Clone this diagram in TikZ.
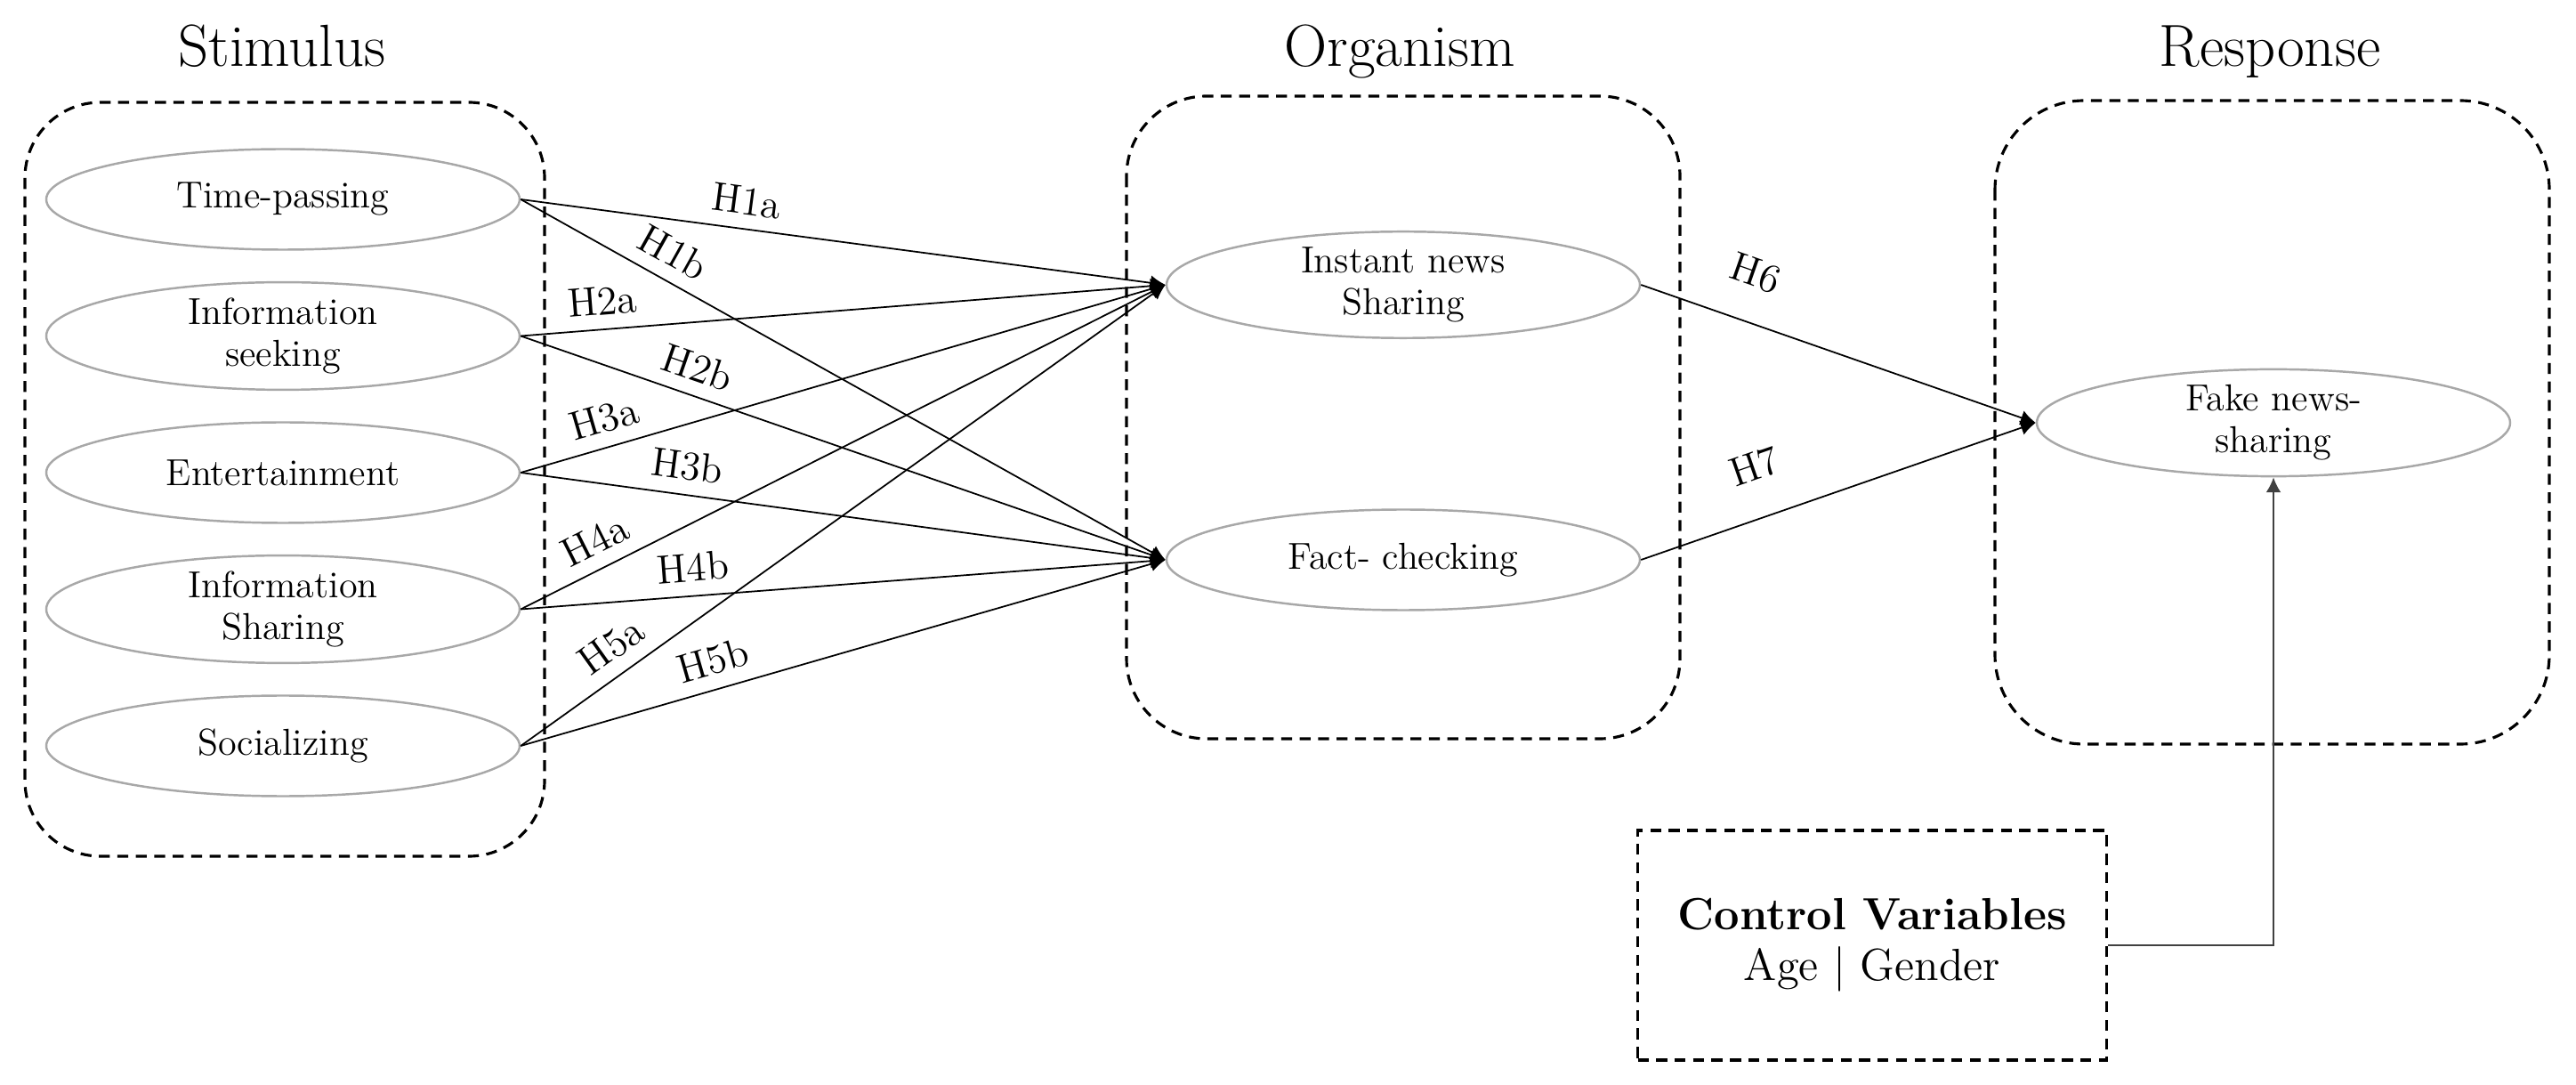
\documentclass[tikz,border=0pt]{standalone}
\usepackage{tikz}
\usetikzlibrary{arrows.meta,shapes.geometric}

\definecolor{ovalgray}{RGB}{168,168,168}

\begin{document}
\begin{tikzpicture}[>={Latex[length=4.8pt,width=4.8pt]},
    oval/.style={ellipse, draw=ovalgray, line width=0.7pt, minimum width=5.32cm,
        minimum height=1.13cm, inner sep=0pt, align=center,
        font=\fontsize{12}{13.4}\selectfont},
    grpbox/.style={draw, line width=0.9pt, dash pattern=on 3.5pt off 2.4pt},
    grptitle/.style={anchor=base, font=\fontsize{19}{22}\selectfont},
    hyp/.style={sloped, above=3.8pt, inner sep=0.5pt, font=\fontsize{13}{15}\selectfont},
    link/.style={->, line width=0.5pt}]
    \useasboundingbox (0,0) rectangle (28.95,-12.19);

    % 三个分组框
    \draw[grpbox, rounded corners=0.85cm] (0.28,-1.15) rectangle (6.12,-9.62);
    \draw[grpbox, rounded corners=0.9cm] (12.66,-1.08) rectangle (18.88,-8.30);
    \draw[grpbox, rounded corners=1cm] (22.42,-1.13) rectangle (28.65,-8.36);
    \node[grptitle] (stimtitle) at (3.17,-0.75) {Stimulus};
    \node[grptitle] (orgtitle) at (15.73,-0.75) {Organism};
    \node[grptitle] (resptitle) at (25.51,-0.75) {Response};

    % Stimulus: 左侧五个椭圆
    \node[oval] (timepass) at (3.18,-2.24) {Time-passing};
    \node[oval] (infoseek) at (3.18,-3.775) {Information\\seeking};
    \node[oval] (entertain) at (3.18,-5.31) {Entertainment};
    \node[oval] (infoshare) at (3.18,-6.845) {Information\\Sharing};
    \node[oval] (social) at (3.18,-8.38) {Socializing};

    % Organism 与 Response
    \node[oval] (instant) at (15.77,-3.20) {Instant news\\Sharing};
    \node[oval] (factcheck) at (15.77,-6.29) {Fact- checking};
    \node[oval] (fakenews) at (25.55,-4.75) {Fake news-\\sharing};

    % 控制变量
    \node[grpbox, minimum width=5.27cm, minimum height=2.58cm, align=center,
        font=\fontsize{14.4}{16.2}\selectfont] (control) at (21.04,-10.62)
        {\textbf{Control Variables}\\Age \textbar{} Gender};

    % 假设路径 H1--H5
    \draw[link] (timepass.east) -- node[hyp, pos=0.345] {H1a} (instant.west);
    \draw[link] (timepass.east) -- node[hyp, pos=0.215] {H1b} (factcheck.west);
    \draw[link] (infoseek.east) -- node[hyp, pos=0.13] {H2a} (instant.west);
    \draw[link] (infoseek.east) -- node[hyp, pos=0.26] {H2b} (factcheck.west);
    \draw[link] (entertain.east) -- node[hyp, pos=0.142] {H3a} (instant.west);
    \draw[link] (entertain.east) -- node[hyp, pos=0.252] {H3b} (factcheck.west);
    \draw[link] (infoshare.east) -- node[hyp, pos=0.135] {H4a} (instant.west);
    \draw[link] (infoshare.east) -- node[hyp, pos=0.27] {H4b} (factcheck.west);
    \draw[link] (social.east) -- node[hyp, pos=0.166] {H5a} (instant.west);
    \draw[link] (social.east) -- node[hyp, pos=0.31] {H5b} (factcheck.west);

    % H6, H7
    \draw[link] (instant.east) -- node[hyp, above=6.5pt, pos=0.25] {H6} (fakenews.west);
    \draw[link] (factcheck.east) -- node[hyp, above=7.3pt, pos=0.33] {H7} (fakenews.west);

    % 控制变量箭头
    \draw[link, black!75] (control.east) -| (fakenews.south);
\end{tikzpicture}
\end{document}
